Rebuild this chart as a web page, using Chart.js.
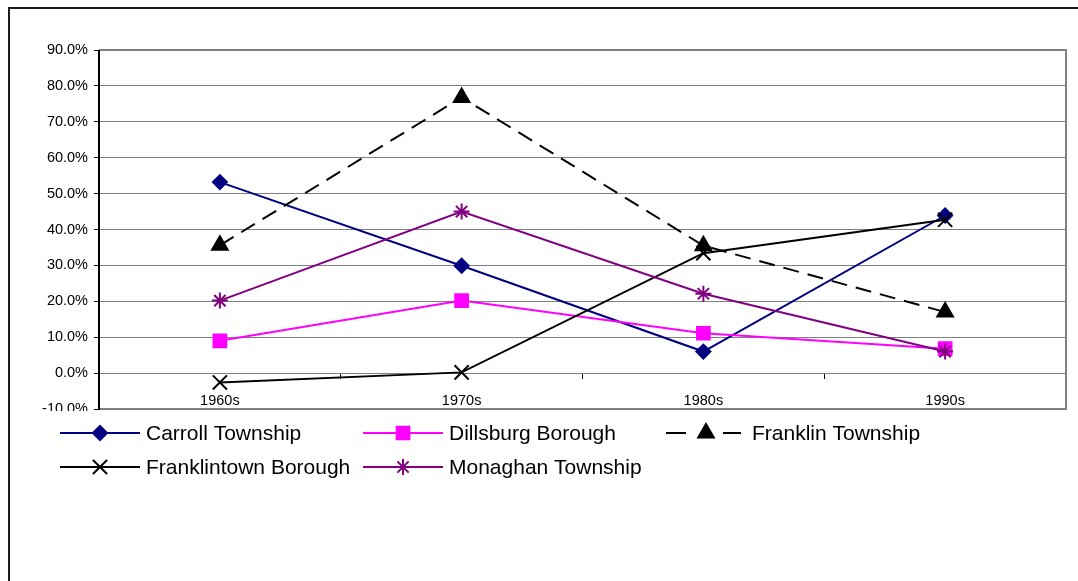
<!DOCTYPE html>
<html>
<head>
<meta charset="utf-8">
<style>
  html, body { margin: 0; padding: 0; background: #fff; }
  #wrap { width: 1078px; height: 581px; position: relative; }
</style>
<script src="https://cdn.jsdelivr.net/npm/chart.js@4/dist/chart.umd.min.js"></script>
</head>
<body>
<div id="wrap"><canvas id="growthChart" width="1078" height="581"></canvas></div>
<script>
const decades = ['1960s', '1970s', '1980s', '1990s'];
const carroll = [53.2, 29.9, 6.0, 43.9];
const dillsburg = [9.0, 20.2, 11.1, 6.8];
const franklinTwp = [35.6, 76.8, 35.5, 17.0];
const franklintown = [-2.6, 0.2, 33.4, 42.7];
const monaghan = [20.2, 45.0, 22.1, 6.0];
const yTicks = [-10, 0, 10, 20, 30, 40, 50, 60, 70, 80, 90];

const FONT = "'Liberation Sans', Arial, sans-serif";

function series(label, data, color, style, radius, order, dash) {
    return {
        label: label,
        data: data,
        borderColor: color,
        backgroundColor: color,
        borderWidth: 2,
        borderDash: dash || [],
        pointStyle: style,
        pointRadius: radius,
        pointHoverRadius: radius,
        pointBorderWidth: 2,
        pointBorderColor: color,
        pointBackgroundColor: color,
        tension: 0,
        fill: false,
        order: order
    };
}

// outer frame, plot border, clipped -10% label and the 3-column legend
const frame = {
    id: 'frame',
    beforeDraw(chart) {
        const c = chart.ctx;
        c.save();
        c.fillStyle = '#fff';
        c.fillRect(0, 0, chart.width, chart.height);
        c.strokeStyle = '#1a1a1a';
        c.lineWidth = 2;
        c.beginPath();
        c.moveTo(9, 581);
        c.lineTo(9, 8);
        c.lineTo(1078, 8);
        c.stroke();
        c.restore();
    },
    beforeDatasetsDraw(chart) {
        const a = chart.chartArea;
        const c = chart.ctx;
        c.save();
        c.strokeStyle = '#808080';
        c.lineWidth = 2;
        c.beginPath();
        c.moveTo(a.left, a.top);
        c.lineTo(a.right, a.top);
        c.lineTo(a.right, a.bottom);
        c.lineTo(a.left, a.bottom);
        c.stroke();
        c.strokeStyle = '#000';
        c.beginPath();
        c.moveTo(a.left, a.top);
        c.lineTo(a.left, a.bottom + 1);
        c.stroke();
        c.restore();
    },
    afterDraw(chart) {
        const c = chart.ctx;
        c.save();
        c.fillStyle = '#fff';
        c.fillRect(20, 411, 76, 10);

        c.font = '21px ' + FONT;
        c.textBaseline = 'middle';
        c.textAlign = 'left';
        chart.data.datasets.forEach((ds, i) => {
            const x0 = 60 + (i % 3) * 303;
            const y = 433 + Math.floor(i / 3) * 34;
            const dashed = ds.borderDash.length > 0;
            c.strokeStyle = ds.borderColor;
            c.lineWidth = ds.borderWidth;
            c.setLineDash(dashed ? [20, 37, 18, 100] : []);
            c.beginPath();
            c.moveTo(x0, y);
            c.lineTo(x0 + 80, y);
            c.stroke();
            c.setLineDash([]);
            c.fillStyle = ds.backgroundColor;
            if (Chart.helpers && Chart.helpers.drawPoint) {
                Chart.helpers.drawPoint(c, {
                    pointStyle: ds.pointStyle,
                    radius: ds.pointRadius,
                    borderWidth: ds.pointBorderWidth,
                    rotation: 0
                }, x0 + 40, y);
            }
            c.fillStyle = '#000';
            c.fillText(ds.label, x0 + 86, y + 1);
        });
        c.restore();
    }
};

new Chart(document.getElementById('growthChart').getContext('2d'), {
    type: 'line',
    data: {
        labels: decades,
        datasets: [
            series('Carroll Township', carroll, '#000080', 'rectRot', 7, 5),
            series('Dillsburg Borough', dillsburg, '#FF00FF', 'rect', 9, 4),
            series('Franklin Township', franklinTwp, '#000000', 'triangle', 9, 3, [16, 9]),
            series('Franklintown Borough', franklintown, '#000000', 'crossRot', 10, 2),
            series('Monaghan Township', monaghan, '#800080', 'star', 8, 1)
        ]
    },
    options: {
        responsive: false,
        animation: false,
        events: [],
        layout: {
            padding: { top: 50, right: 11, bottom: 172, left: 0 }
        },
        plugins: {
            legend: { display: false },
            title: { display: false },
            tooltip: { enabled: false }
        },
        scales: {
            x: {
                position: { y: 0 },
                offset: true,
                grid: {
                    drawOnChartArea: false,
                    drawTicks: true,
                    tickLength: 5,
                    tickColor: '#000',
                    offset: true
                },
                border: { display: true, color: '#808080', width: 1 },
                ticks: {
                    color: '#000',
                    padding: 14,
                    maxRotation: 0,
                    font: { family: FONT, size: 14.5 }
                }
            },
            y: {
                min: -10,
                max: 90,
                afterFit(scale) { scale.width = 99; },
                afterBuildTicks(scale) {
                    scale.ticks = yTicks.map(v => ({ value: v }));
                },
                grid: {
                    color: '#808080',
                    lineWidth: 1,
                    drawTicks: true,
                    tickLength: 5,
                    tickColor: '#000'
                },
                border: { display: false },
                ticks: {
                    color: '#000',
                    padding: 6,
                    font: { family: FONT, size: 14.5 },
                    callback: v => v.toFixed(1) + '%'
                }
            }
        }
    },
    plugins: [frame]
});
</script>
</body>
</html>
